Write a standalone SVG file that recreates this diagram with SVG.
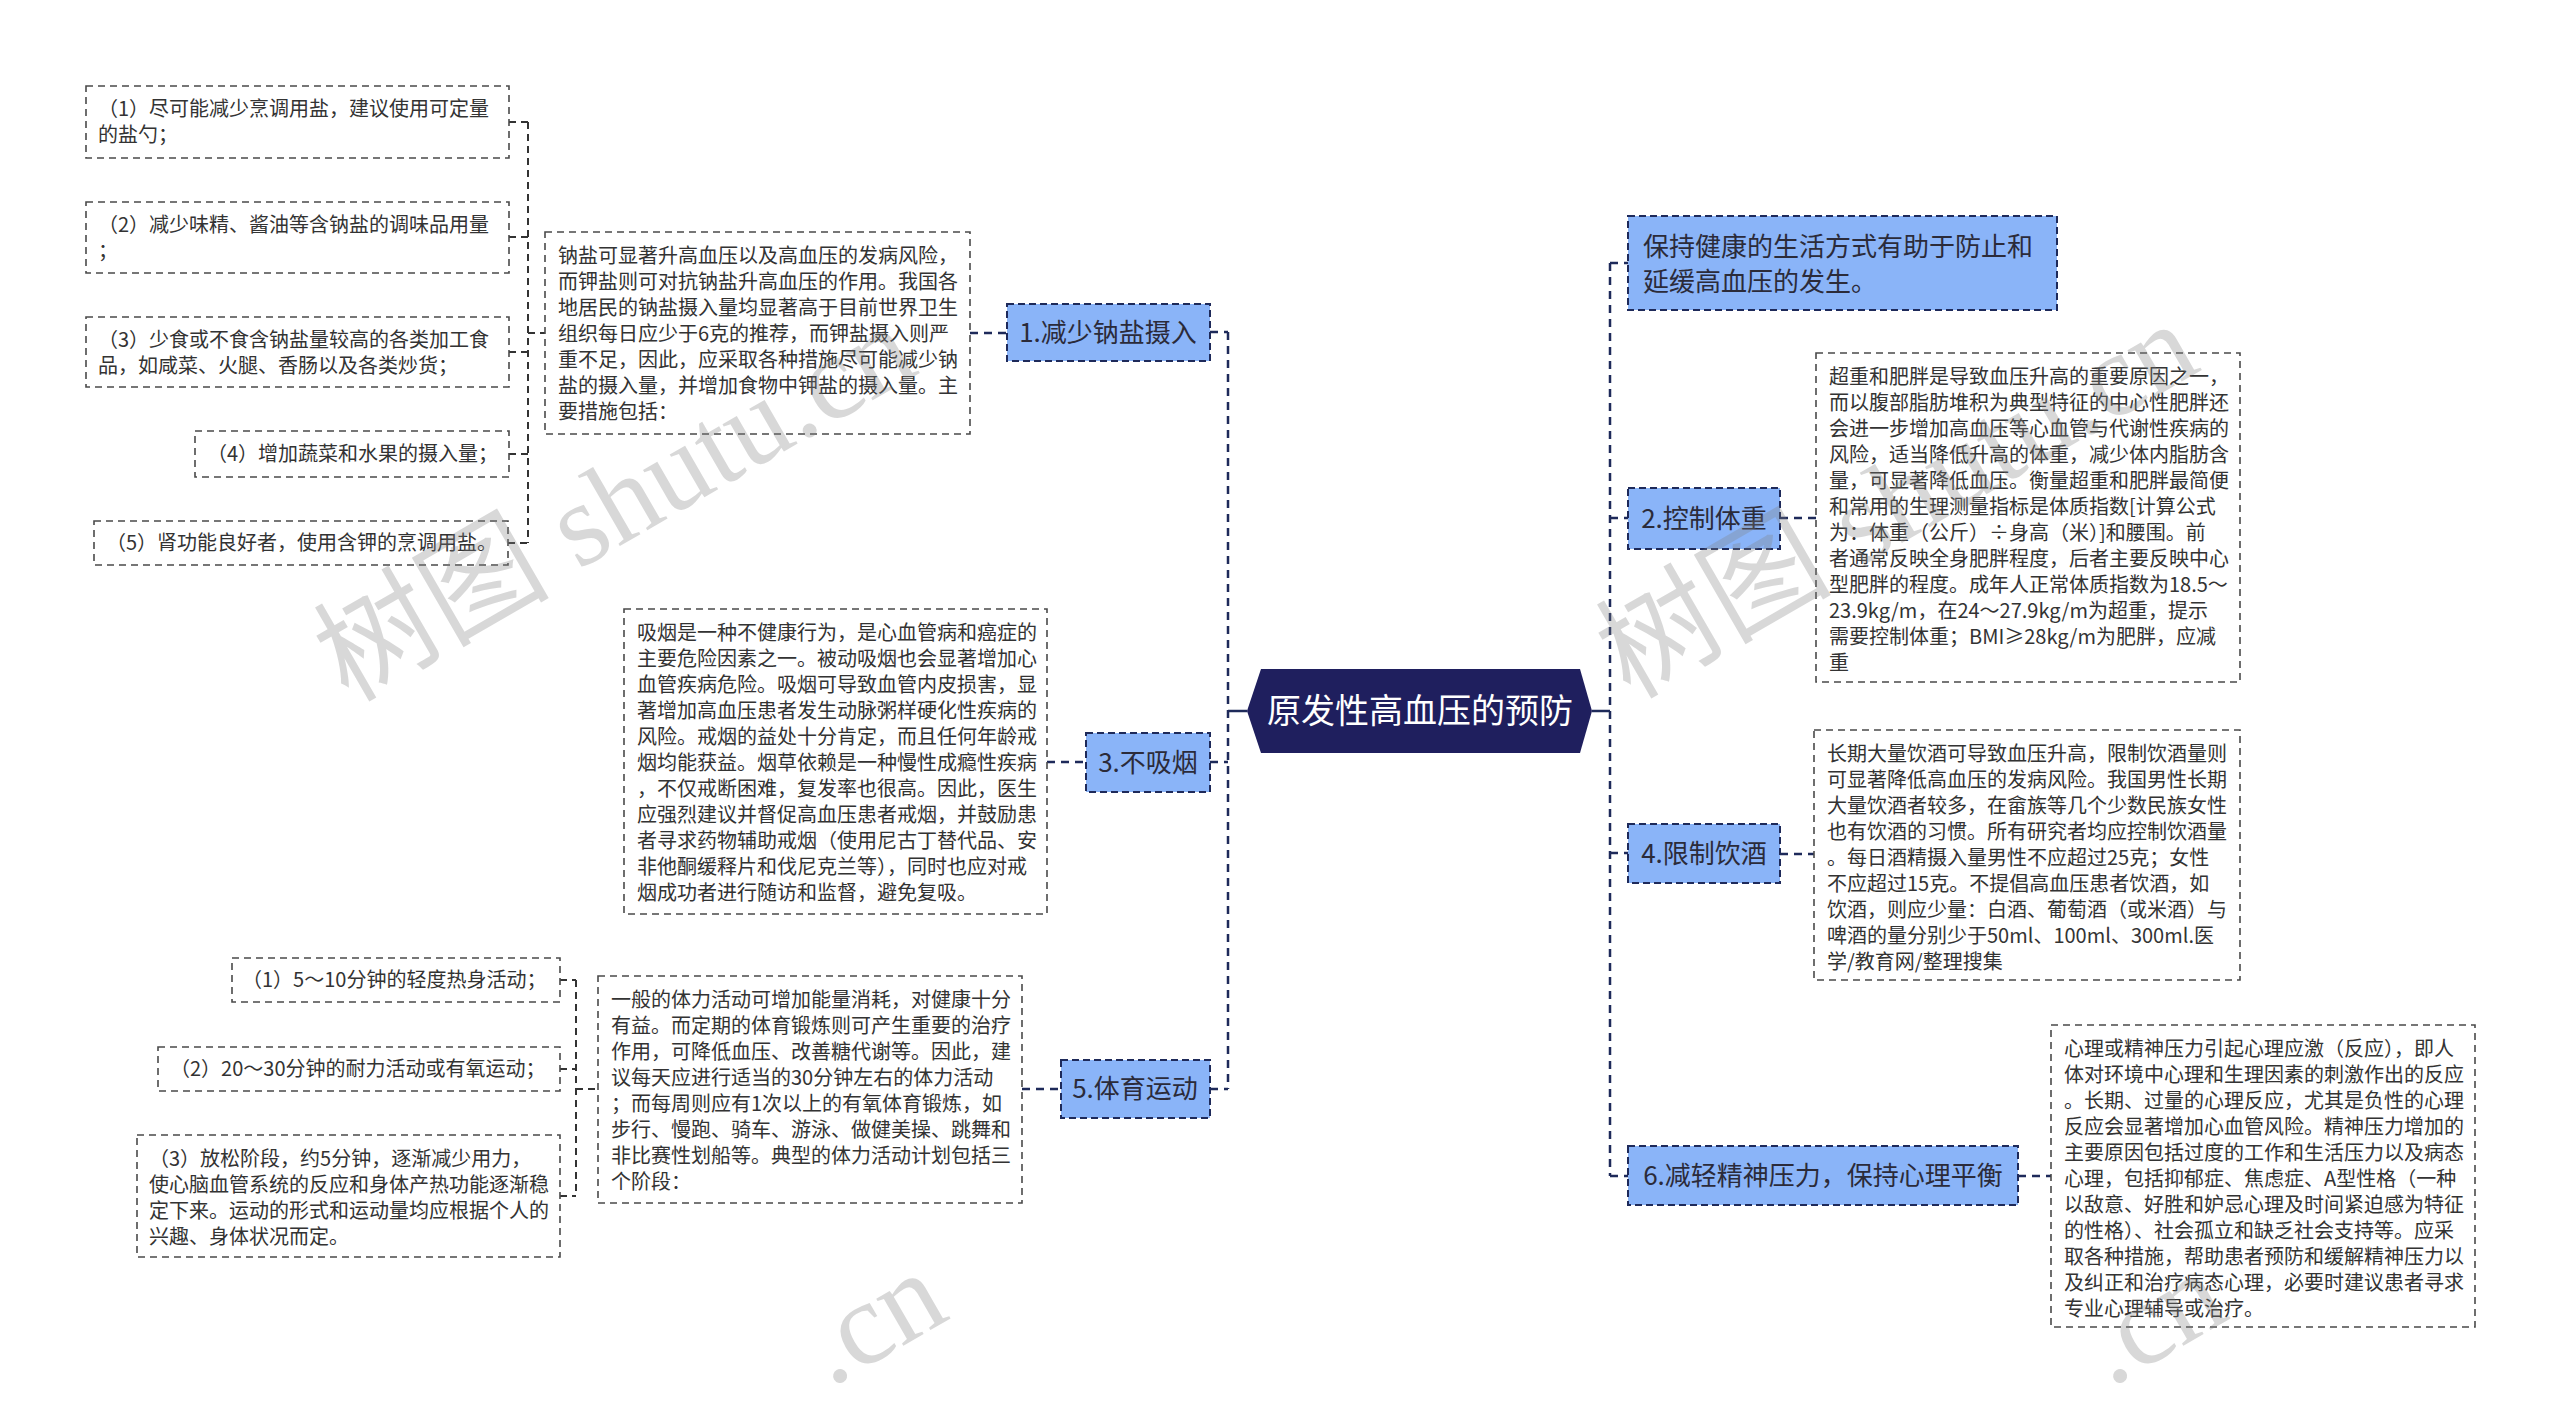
<svg xmlns="http://www.w3.org/2000/svg" width="2560" height="1415" viewBox="0 0 2560 1415">
<style>
.bg{fill:#ffffff}
.tb{fill:#ffffff;stroke:#4a4a4a;stroke-width:1.6;stroke-dasharray:7 5}
.nd{fill:#8ab4f8;stroke:#1e2a5a;stroke-width:2;stroke-dasharray:7 4}
.t{font-family:"Noto Sans CJK SC","Noto Sans",sans-serif;font-size:20px;fill:#333333}
.tn{font-family:"Noto Sans CJK SC","Noto Sans",sans-serif;font-size:26px;fill:#2b2b3a;text-anchor:middle}
.tl{font-family:"Noto Sans CJK SC","Noto Sans",sans-serif;font-size:26px;fill:#2b2b3a}
.cn{fill:none;stroke:#1e2a5a;stroke-width:2.5;stroke-dasharray:8 6}
.cg{fill:none;stroke:#333333;stroke-width:2;stroke-dasharray:7 5}
.cs{fill:none;stroke:#1e2a5a;stroke-width:2.5}
.wm{font-family:"Liberation Serif","Noto Sans CJK SC",serif;font-size:118px;fill:#808080;opacity:0.3}
</style>
<rect class="bg" x="0" y="0" width="2560" height="1415"/>

<g id="connectors">
  <path class="cg" d="M509,122 H528 M509,237 H528 M509,352 H528 M509,454 H528 M508,543 H528 M528,122 V543 M528,333 H545"/>
  <path class="cn" d="M970,333 H1007"/>
  <path class="cn" d="M1047,762 H1086"/>
  <path class="cg" d="M560,980 H576 M560,1069 H576 M560,1196 H576 M576,980 V1196 M576,1089 H598"/>
  <path class="cn" d="M1022,1089 H1061"/>
  <path class="cn" d="M1210,332 H1228 M1210,762 H1228 M1210,1089 H1228 M1228,332 V1089"/>
  <path class="cs" d="M1228,711 H1247"/>
  <path class="cs" d="M1592,711 H1610"/>
  <path class="cn" d="M1610,263 V1176 M1610,263 H1628 M1610,518 H1628 M1610,853 H1628 M1610,1176 H1628"/>
  <path class="cn" d="M1780,518 H1816 M1780,854 H1814 M2018,1176 H2051"/>
</g>

<g id="root">
  <polygon points="1247,711 1261,669 1580,669 1592,711 1580,753 1261,753" fill="#1f1f5e"/>
  <text x="1420" y="723" font-family="Noto Sans CJK SC, sans-serif" font-size="34" fill="#ffffff" text-anchor="middle">原发性高血压的预防</text>
</g>

<g id="n-s1">
  <rect class="tb" x="86" y="86" width="423" height="72"/>
  <text class="t" x="98" y="116"><tspan x="98">（1）尽可能减少烹调用盐，建议使用可定量</tspan><tspan x="98" dy="26">的盐勺；</tspan></text>
</g>
<g id="n-s2">
  <rect class="tb" x="86" y="202" width="423" height="71"/>
  <text class="t" x="98" y="232"><tspan x="98">（2）减少味精、酱油等含钠盐的调味品用量</tspan><tspan x="98" dy="26">；</tspan></text>
</g>
<g id="n-s3">
  <rect class="tb" x="86" y="317" width="423" height="70"/>
  <text class="t" x="98" y="347"><tspan x="98">（3）少食或不食含钠盐量较高的各类加工食</tspan><tspan x="98" dy="26">品，如咸菜、火腿、香肠以及各类炒货；</tspan></text>
</g>
<g id="n-s4">
  <rect class="tb" x="195" y="431" width="314" height="46"/>
  <text class="t" x="207" y="461">（4）增加蔬菜和水果的摄入量；</text>
</g>
<g id="n-s5">
  <rect class="tb" x="94" y="521" width="414" height="44"/>
  <text class="t" x="106" y="550">（5）肾功能良好者，使用含钾的烹调用盐。</text>
</g>

<g id="n-sodium-text">
  <rect class="tb" x="545" y="232" width="425" height="202"/>
  <text class="t" y="263">
    <tspan x="558">钠盐可显著升高血压以及高血压的发病风险，</tspan>
    <tspan x="558" dy="26">而钾盐则可对抗钠盐升高血压的作用。我国各</tspan>
    <tspan x="558" dy="26">地居民的钠盐摄入量均显著高于目前世界卫生</tspan>
    <tspan x="558" dy="26">组织每日应少于6克的推荐，而钾盐摄入则严</tspan>
    <tspan x="558" dy="26">重不足，因此，应采取各种措施尽可能减少钠</tspan>
    <tspan x="558" dy="26">盐的摄入量，并增加食物中钾盐的摄入量。主</tspan>
    <tspan x="558" dy="26">要措施包括：</tspan>
  </text>
</g>
<g id="n1">
  <rect class="nd" x="1007" y="304" width="203" height="57"/>
  <text class="tn" x="1108" y="342">1.减少钠盐摄入</text>
</g>

<g id="n-smoke-text">
  <rect class="tb" x="624" y="609" width="423" height="305"/>
  <text class="t" y="640">
    <tspan x="637">吸烟是一种不健康行为，是心血管病和癌症的</tspan>
    <tspan x="637" dy="26">主要危险因素之一。被动吸烟也会显著增加心</tspan>
    <tspan x="637" dy="26">血管疾病危险。吸烟可导致血管内皮损害，显</tspan>
    <tspan x="637" dy="26">著增加高血压患者发生动脉粥样硬化性疾病的</tspan>
    <tspan x="637" dy="26">风险。戒烟的益处十分肯定，而且任何年龄戒</tspan>
    <tspan x="637" dy="26">烟均能获益。烟草依赖是一种慢性成瘾性疾病</tspan>
    <tspan x="637" dy="26">，不仅戒断困难，复发率也很高。因此，医生</tspan>
    <tspan x="637" dy="26">应强烈建议并督促高血压患者戒烟，并鼓励患</tspan>
    <tspan x="637" dy="26">者寻求药物辅助戒烟（使用尼古丁替代品、安</tspan>
    <tspan x="637" dy="26">非他酮缓释片和伐尼克兰等），同时也应对戒</tspan>
    <tspan x="637" dy="26">烟成功者进行随访和监督，避免复吸。</tspan>
  </text>
</g>
<g id="n3">
  <rect class="nd" x="1086" y="733" width="124" height="59"/>
  <text class="tn" x="1148" y="772">3.不吸烟</text>
</g>

<g id="n-e1">
  <rect class="tb" x="232" y="958" width="328" height="44"/>
  <text class="t" x="242" y="987">（1）5～10分钟的轻度热身活动；</text>
</g>
<g id="n-e2">
  <rect class="tb" x="158" y="1047" width="402" height="44"/>
  <text class="t" x="170" y="1076">（2）20～30分钟的耐力活动或有氧运动；</text>
</g>
<g id="n-e3">
  <rect class="tb" x="137" y="1135" width="423" height="122"/>
  <text class="t" y="1166">
    <tspan x="149">（3）放松阶段，约5分钟，逐渐减少用力，</tspan>
    <tspan x="149" dy="26">使心脑血管系统的反应和身体产热功能逐渐稳</tspan>
    <tspan x="149" dy="26">定下来。运动的形式和运动量均应根据个人的</tspan>
    <tspan x="149" dy="26">兴趣、身体状况而定。</tspan>
  </text>
</g>
<g id="n-ex-text">
  <rect class="tb" x="598" y="976" width="424" height="227"/>
  <text class="t" y="1007">
    <tspan x="611">一般的体力活动可增加能量消耗，对健康十分</tspan>
    <tspan x="611" dy="26">有益。而定期的体育锻炼则可产生重要的治疗</tspan>
    <tspan x="611" dy="26">作用，可降低血压、改善糖代谢等。因此，建</tspan>
    <tspan x="611" dy="26">议每天应进行适当的30分钟左右的体力活动</tspan>
    <tspan x="611" dy="26">；而每周则应有1次以上的有氧体育锻炼，如</tspan>
    <tspan x="611" dy="26">步行、慢跑、骑车、游泳、做健美操、跳舞和</tspan>
    <tspan x="611" dy="26">非比赛性划船等。典型的体力活动计划包括三</tspan>
    <tspan x="611" dy="26">个阶段：</tspan>
  </text>
</g>
<g id="n5">
  <rect class="nd" x="1061" y="1060" width="149" height="58"/>
  <text class="tn" x="1135" y="1098">5.体育运动</text>
</g>

<g id="n-top">
  <rect class="nd" x="1628" y="216" width="429" height="94"/>
  <text class="tl" y="256"><tspan x="1643">保持健康的生活方式有助于防止和</tspan><tspan x="1643" dy="35">延缓高血压的发生。</tspan></text>
</g>

<g id="n2">
  <rect class="nd" x="1628" y="488" width="152" height="61"/>
  <text class="tn" x="1704" y="528">2.控制体重</text>
</g>
<g id="n-weight-text">
  <rect class="tb" x="1816" y="353" width="424" height="329"/>
  <text class="t" y="384">
    <tspan x="1829">超重和肥胖是导致血压升高的重要原因之一，</tspan>
    <tspan x="1829" dy="26">而以腹部脂肪堆积为典型特征的中心性肥胖还</tspan>
    <tspan x="1829" dy="26">会进一步增加高血压等心血管与代谢性疾病的</tspan>
    <tspan x="1829" dy="26">风险，适当降低升高的体重，减少体内脂肪含</tspan>
    <tspan x="1829" dy="26">量，可显著降低血压。衡量超重和肥胖最简便</tspan>
    <tspan x="1829" dy="26">和常用的生理测量指标是体质指数[计算公式</tspan>
    <tspan x="1829" dy="26">为：体重（公斤）÷身高（米）]和腰围。前</tspan>
    <tspan x="1829" dy="26">者通常反映全身肥胖程度，后者主要反映中心</tspan>
    <tspan x="1829" dy="26">型肥胖的程度。成年人正常体质指数为18.5～</tspan>
    <tspan x="1829" dy="26">23.9kg/m，在24～27.9kg/m为超重，提示</tspan>
    <tspan x="1829" dy="26">需要控制体重；BMI≥28kg/m为肥胖，应减</tspan>
    <tspan x="1829" dy="26">重</tspan>
  </text>
</g>

<g id="n4">
  <rect class="nd" x="1628" y="824" width="152" height="59"/>
  <text class="tn" x="1704" y="863">4.限制饮酒</text>
</g>
<g id="n-alcohol-text">
  <rect class="tb" x="1814" y="730" width="426" height="250"/>
  <text class="t" y="761">
    <tspan x="1827">长期大量饮酒可导致血压升高，限制饮酒量则</tspan>
    <tspan x="1827" dy="26">可显著降低高血压的发病风险。我国男性长期</tspan>
    <tspan x="1827" dy="26">大量饮酒者较多，在畲族等几个少数民族女性</tspan>
    <tspan x="1827" dy="26">也有饮酒的习惯。所有研究者均应控制饮酒量</tspan>
    <tspan x="1827" dy="26">。每日酒精摄入量男性不应超过25克；女性</tspan>
    <tspan x="1827" dy="26">不应超过15克。不提倡高血压患者饮酒，如</tspan>
    <tspan x="1827" dy="26">饮酒，则应少量：白酒、葡萄酒（或米酒）与</tspan>
    <tspan x="1827" dy="26">啤酒的量分别少于50ml、100ml、300ml.医</tspan>
    <tspan x="1827" dy="26">学/教育网/整理搜集</tspan>
  </text>
</g>

<g id="n6">
  <rect class="nd" x="1628" y="1146" width="390" height="59"/>
  <text class="tn" x="1823" y="1185">6.减轻精神压力，保持心理平衡</text>
</g>
<g id="n-stress-text">
  <rect class="tb" x="2051" y="1025" width="424" height="302"/>
  <text class="t" y="1056">
    <tspan x="2064">心理或精神压力引起心理应激（反应），即人</tspan>
    <tspan x="2064" dy="26">体对环境中心理和生理因素的刺激作出的反应</tspan>
    <tspan x="2064" dy="26">。长期、过量的心理反应，尤其是负性的心理</tspan>
    <tspan x="2064" dy="26">反应会显著增加心血管风险。精神压力增加的</tspan>
    <tspan x="2064" dy="26">主要原因包括过度的工作和生活压力以及病态</tspan>
    <tspan x="2064" dy="26">心理，包括抑郁症、焦虑症、A型性格（一种</tspan>
    <tspan x="2064" dy="26">以敌意、好胜和妒忌心理及时间紧迫感为特征</tspan>
    <tspan x="2064" dy="26">的性格）、社会孤立和缺乏社会支持等。应采</tspan>
    <tspan x="2064" dy="26">取各种措施，帮助患者预防和缓解精神压力以</tspan>
    <tspan x="2064" dy="26">及纠正和治疗病态心理，必要时建议患者寻求</tspan>
    <tspan x="2064" dy="26">专业心理辅导或治疗。</tspan>
  </text>
</g>

<g id="watermark">
  <text class="wm" transform="translate(348,703) rotate(-30)">树图 shutu.cn</text>
  <text class="wm" transform="translate(1630,700) rotate(-30)">树图 shutu.cn</text>
  <text class="wm" transform="translate(830,1388) rotate(-30)">.cn</text>
  <text class="wm" transform="translate(2110,1388) rotate(-30)">.cn</text>
</g>
</svg>
